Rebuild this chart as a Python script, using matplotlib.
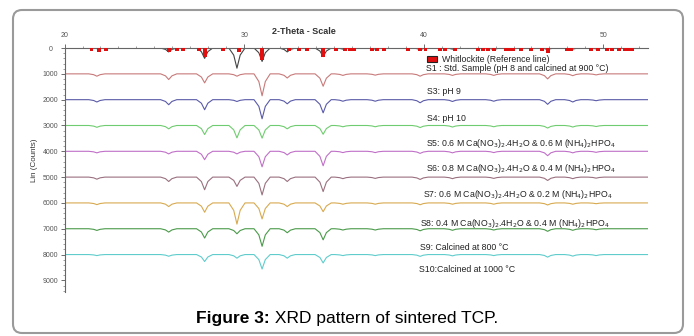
import matplotlib
matplotlib.use("Agg")
import matplotlib.pyplot as plt
from matplotlib.patches import Rectangle, FancyBboxPatch
from matplotlib.ticker import MultipleLocator
import numpy as np

plt.rcParams['font.family'] = ['Liberation Sans', 'DejaVu Sans']

# 2-theta positions of the peaks seen in the patterns
peak_pos = [21.8, 25.8, 27.8, 29.6, 31.0, 32.4, 34.4, 35.5, 37.3, 39.8, 41.6, 43.9, 46.9, 48.3, 49.6]

# peak depths (counts) for each sample, top to bottom
s1 = [20, 150, 400, 780, 520, 150, 330, 40, 40, 60, 40, 60, 60, 40, 30]
s3 = [90, 220, 350, 90, 850, 160, 480, 60, 50, 90, 60, 60, 195, 70, 40]
s4 = [90, 195, 390, 70, 740, 160, 510, 60, 60, 120, 70, 60, 180, 90, 40]
s5 = [70, 130, 350, 480, 490, 130, 340, 50, 50, 80, 60, 50, 100, 60, 40]
s6 = [60, 100, 325, 100, 600, 140, 560, 50, 50, 80, 60, 50, 170, 60, 40]
s7 = [80, 170, 490, 360, 690, 170, 560, 60, 50, 90, 60, 50, 130, 60, 40]
s8 = [65, 140, 360, 820, 620, 140, 340, 50, 50, 70, 50, 50, 80, 50, 30]
s9 = [65, 130, 360, 195, 680, 155, 430, 50, 50, 80, 60, 50, 100, 60, 40]
s10 = [40, 65, 270, 140, 560, 140, 325, 40, 40, 70, 50, 40, 100, 60, 40]

offsets = [0, 1000, 2000, 3000, 4000, 5000, 6000, 7000, 8000]
colors = ['#444444', '#c87a7a', '#5a5aa8', '#70cc70', '#c070c8',
          '#9a7080', '#d8aa50', '#4a9a4a', '#60cccc']

labels = [
    'S1 : Std. Sample (pH 8 and calcined at 900 °C)',
    'S3: pH 9',
    'S4: pH 10',
    'S5: 0.6 M Ca(NO$_3$)$_2$.4H$_2$O & 0.6 M (NH$_4$)$_2$HPO$_4$',
    'S6: 0.8 M Ca(NO$_3$)$_2$.4H$_2$O & 0.4 M (NH$_4$)$_2$HPO$_4$',
    'S7: 0.6 M Ca(NO$_3$)$_2$.4H$_2$O & 0.2 M (NH$_4$)$_2$HPO$_4$',
    'S8: 0.4 M Ca(NO$_3$)$_2$.4H$_2$O & 0.4 M (NH$_4$)$_2$HPO$_4$',
    'S9: Calcined at 800 °C',
    'S10:Calcined at 1000 °C',
]
label_x = [40.1, 40.2, 40.2, 40.15, 40.1, 39.95, 39.8, 39.8, 39.75]
label_y = [810, 1700, 2710, 3680, 4650, 5660, 6780, 7710, 8570]

# whitlockite reference lines
ref_pos = [21.5, 21.9, 22.3, 25.8, 26.25, 26.6, 27.5, 27.8, 28.8, 29.7, 31.0, 32.5,
           33.05, 33.5, 34.4, 35.1, 35.6, 35.9, 36.1, 37.1, 37.4, 37.8, 39.1, 39.8,
           40.1, 40.9, 41.2, 41.75, 43.0, 43.3, 43.6, 43.9, 44.6, 44.8, 45.0, 45.4,
           46.0, 46.6, 46.9, 48.0, 48.2, 49.3, 49.7, 50.2, 50.5, 50.9, 51.2, 51.4, 51.6]
ref_int = [110, 140, 110, 150, 100, 100, 110, 350, 110, 150, 470, 120,
           110, 110, 330, 100, 120, 100, 100, 100, 110, 100, 100, 120,
           110, 100, 100, 110, 100, 100, 110, 100, 110, 100, 100, 100,
           100, 120, 180, 110, 120, 100, 100, 100, 100, 100, 100, 100, 100]

x_start, x_end = 20.0, 52.5
shape_dx = [-0.45, -0.18, 0.0, 0.18, 0.45]
shape_f = [0.0, 0.35, 1.0, 0.35, 0.0]

fig = plt.figure(figsize=(6.94, 3.36), dpi=100)
ax = fig.add_axes([0.093, 0.131, 0.841, 0.726])

series = [s1, s3, s4, s5, s6, s7, s8, s9, s10]
for depths, off, col, lab, lx, ly in zip(series, offsets, colors, labels, label_x, label_y):
    xs = [x_start]
    ys = [off]
    for p, d in zip(peak_pos, depths):
        for dx, f in zip(shape_dx, shape_f):
            xs.append(p + dx)
            ys.append(off + f * d)
    xs.append(x_end)
    ys.append(off)
    ax.plot(xs, ys, color=col, lw=0.8)
    ax.text(lx, ly, lab, fontsize=6.3, va='center', ha='left', color='#222222')

ax.bar(ref_pos, ref_int, width=0.22, color='#e01010', zorder=3)

# legend entry for the reference pattern
ax.add_patch(Rectangle((40.2, 430 - 115), 0.55, 230, facecolor='#e01010',
                       edgecolor='#222222', lw=0.8, zorder=3))
ax.text(41.0, 430, 'Whitlockite (Reference line)', fontsize=6.3, va='center', color='#222222')

ax.set_xlim(x_start, x_end)
ax.set_ylim(9450, 0)
ax.xaxis.tick_top()
ax.xaxis.set_major_locator(MultipleLocator(10))
ax.xaxis.set_minor_locator(MultipleLocator(1))
ax.yaxis.set_major_locator(MultipleLocator(1000))
ax.yaxis.set_minor_locator(MultipleLocator(200))
ax.tick_params(axis='both', which='major', labelsize=5, length=3, width=0.6, colors='#555555')
ax.tick_params(axis='both', which='minor', length=1.5, width=0.5, colors='#777777')
ax.tick_params(axis='y', pad=7)
ax.set_yticks(np.arange(0, 10000, 1000))
ax.set_yticklabels([str(v) for v in range(0, 10000, 1000)], ha='center')
for s in ['right', 'bottom']:
    ax.spines[s].set_visible(False)
for s in ['top', 'left']:
    ax.spines[s].set_color('#666666')
    ax.spines[s].set_linewidth(0.8)

fig.text(35 / 694, 1 - 160 / 336, 'Lin (Counts)', rotation=90, fontsize=5.8,
         ha='center', va='center', color='#333333')
fig.text(304 / 694, 1 - 32 / 336, '2-Theta - Scale', fontsize=6.5, fontweight='bold',
         ha='center', va='center', color='#333333')

# frame around the figure
fig.add_artist(FancyBboxPatch((13, 3), 670, 323, boxstyle='round,pad=0,rounding_size=9',
                              transform=None, facecolor='none', edgecolor='#9a9a9a', lw=1.5))

# caption with bold lead-in
cap_y = 1 - 318 / 336
t1 = fig.text(0, cap_y, 'Figure 3:', fontsize=12.5, fontweight='bold', va='center')
t2 = fig.text(0, cap_y, ' XRD pattern of sintered TCP.', fontsize=12.5, va='center')
r = fig.canvas.get_renderer()
w1 = t1.get_window_extent(r).width
w2 = t2.get_window_extent(r).width
x0 = 347 - (w1 + w2) / 2
t1.set_x(x0 / 694)
t2.set_x((x0 + w1) / 694)

fig.savefig('out.png', dpi=100)
